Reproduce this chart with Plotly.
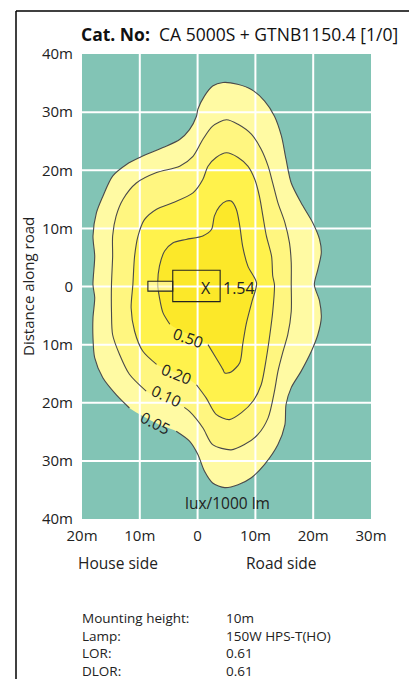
import plotly.graph_objects as go

# ---------------- data (metres) ----------------
levels = ["0.05", "0.10", "0.20", "0.50"]

c005_x = [0.05, 1.2, 2.6, 4.4, 6.9, 9.3, 11.6, 13.3, 14.5, 15.3, 16.2, 17.9, 19.9, 21.1, 21.4, 20.8,
          20.2, 21.1, 21.4, 20.8, 19.7, 17.9, 16.2, 15.3, 15.1, 13.9, 11.6, 9.3, 7.0, 4.7, 2.6, 1.2,
          0.05, -1.4, -3.7, -6.6, -9.5, -11.8, -14.1, -16.4, -17.8, -18.1, -18.1, -17.8, -18.1, -17.8,
          -18.1, -17.5, -16.4, -14.7, -12.3, -10.0, -6.0, -3.1, -1.4, -0.2]
c005_y = [30.5, 32.8, 34.5, 35.1, 34.8, 33.9, 31.9, 29.3, 25.9, 21.9, 17.8, 14.4, 11.0, 8.1, 5.8, 2.9,
          0.3, -2.5, -5.4, -8.3, -11.1, -14.6, -17.4, -20.3, -23.8, -27.2, -30.6, -32.9, -34.1, -34.6,
          -33.8, -31.8, -28.9, -26.6, -24.9, -23.8, -22.3, -20.9, -18.6, -15.7, -12.3, -8.8, -5.4, -1.9,
          0.3, 5.2, 8.7, 12.7, 15.5, 19.0, 21.0, 22.2, 23.9, 25.3, 27.0, 29.3]

c010_x = [5.0, 7.0, 9.3, 11.0, 12.2, 13.0, 13.9, 15.1, 15.9, 16.2, 16.2, 16.2, 15.6, 14.8, 13.9, 13.3,
          12.2, 10.4, 8.1, 5.8, 2.6, 0.9, -1.4, -2.3, -5.7, -8.9, -11.8, -13.5, -14.7, -14.9, -14.9,
          -14.7, -14.7, -14.1, -12.9, -10.6, -7.1, -3.1, -0.8, 0.9, 2.6]
c010_y = [28.7, 27.9, 26.2, 23.6, 20.7, 17.8, 14.4, 11.0, 7.5, 4.1, 0.3, -4.3, -8.3, -11.1, -14.6, -18.0,
          -22.6, -25.5, -27.2, -28.1, -27.2, -24.3, -21.5, -20.8, -19.4, -18.0, -15.1, -11.7, -8.3, -4.3,
          0.3, 5.2, 8.7, 12.1, 15.0, 17.8, 19.6, 20.7, 22.4, 25.3, 27.6]

c020_x = [5.0, 7.0, 8.7, 9.9, 10.7, 11.3, 11.9, 12.8, 13.0, 13.3, 13.0, 12.5, 11.9, 11.0, 9.6, 7.6,
          5.5, 3.2, 1.5, -0.2, -3.1, -7.1, -9.5, -10.9, -11.5, -11.2, -10.9, -10.3, -9.2, -7.1, -4.3,
          -0.8, 0.9, 1.8, 3.2]
c020_y = [23.0, 22.2, 20.7, 18.4, 15.5, 12.1, 8.7, 5.2, 1.8, 0.3, -4.3, -8.3, -12.3, -16.9, -19.7, -21.7,
          -22.9, -22.0, -19.2, -16.9, -15.1, -13.4, -11.1, -7.7, -3.7, 0.3, 5.2, 8.7, 11.5, 13.3, 14.4,
          16.1, 18.4, 20.7, 22.2]

c050_x = [5.0, 5.8, 6.7, 7.3, 7.8, 8.7, 10.2, 9.4, 8.4, 7.8, 7.3, 5.8, 4.7, 4.4, 3.2, 1.8, -1.4, -4.8,
          -6.0, -6.6, -6.9, -6.6, -5.7, -4.3, -2.0, 0.9, 2.4, 2.9, 3.8]
c050_y = [14.7, 14.7, 13.3, 10.4, 6.9, 3.5, 0.6, -2.6, -6.5, -10.0, -13.1, -14.7, -14.9, -14.3, -12.3,
          -10.0, -8.3, -6.5, -4.5, -1.9, 0.3, 3.5, 6.1, 7.5, 8.1, 8.7, 9.8, 12.1, 13.8]

# points hidden under each contour label (first, last index)
label_gaps = [(35, 36), (24, 24), (20, 20), (16, 16)]
label_x = [-7.3, -5.3, -3.6, -1.5]
label_y = [-23.5, -18.9, -15.1, -8.8]
label_angle = [27, 25, 22, 20]

peak_value = "1.54"
peak_x, peak_y = 1.4, -0.2
luminaire_box_x = [-4.3, 3.9]
luminaire_box_y = [-2.6, 2.8]
luminaire_arm_x = [-8.6, -4.3]
luminaire_arm_y = [-0.8, 0.9]

x_tick_vals = [-20, -10, 0, 10, 20, 30]
x_tick_text = ["20m", "10m", "0", "10m", "20m", "30m"]
y_tick_vals = [-40, -30, -20, -10, 0, 10, 20, 30, 40]
y_tick_text = ["40m", "30m", "20m", "10m", "0", "10m", "20m", "30m", "40m"]

info_labels = ["Mounting height:", "Lamp:", "LOR:", "DLOR:"]
info_values = ["10m", "150W HPS-T(HO)", "0.61", "0.61"]

# ---------------- style ----------------
FONT = "Open Sans"
TEAL = "#82C4B5"
band_colors = ["#FFFAA3", "#FFF680", "#FFF24C", "#FCE829"]
LINE = "#4a4a4a"
TXT = "#222"

contours = [(c005_x, c005_y), (c010_x, c010_y), (c020_x, c020_y), (c050_x, c050_y)]

fig = go.Figure()

# filled bands (outer first)
for (xs, ys), col, lv in zip(contours, band_colors, levels):
    fig.add_trace(go.Scatter(x=xs + xs[:1], y=ys + ys[:1], mode="lines", fill="toself",
                             fillcolor=col, line=dict(width=0, shape="spline", smoothing=0.8),
                             hoverinfo="skip", showlegend=False, name=lv))

# white grid lines above the fills
gx, gy = [], []
for v in x_tick_vals[1:-1]:
    gx += [v, v, None]
    gy += [y_tick_vals[0], y_tick_vals[-1], None]
for v in y_tick_vals[1:-1]:
    gx += [x_tick_vals[0], x_tick_vals[-1], None]
    gy += [v, v, None]
fig.add_trace(go.Scatter(x=gx, y=gy, mode="lines", line=dict(color="white", width=2),
                         hoverinfo="skip", showlegend=False))

# isolux lines with a gap under each label
for (xs, ys), (g0, g1) in zip(contours, label_gaps):
    lx = xs[g1 + 1:] + xs[:g0]
    ly = ys[g1 + 1:] + ys[:g0]
    fig.add_trace(go.Scatter(x=lx, y=ly, mode="lines",
                             line=dict(color=LINE, width=1.1, shape="spline", smoothing=0.8),
                             hoverinfo="skip", showlegend=False))

# luminaire outline
fig.add_shape(type="rect", xref="x", yref="y", x0=luminaire_arm_x[0], x1=luminaire_arm_x[1],
              y0=luminaire_arm_y[0], y1=luminaire_arm_y[1], line=dict(color="#222", width=1.1),
              fillcolor="rgba(255,250,190,0.6)")
fig.add_shape(type="rect", xref="x", yref="y", x0=luminaire_box_x[0], x1=luminaire_box_x[1],
              y0=luminaire_box_y[0], y1=luminaire_box_y[1], line=dict(color="#222", width=1.1))

annotations = []
for lv, lx, ly, ang in zip(levels, label_x, label_y, label_angle):
    annotations.append(dict(x=lx, y=ly, xref="x", yref="y", text=lv, showarrow=False,
                            textangle=ang, font=dict(family=FONT, size=15.5, color=TXT)))
annotations.append(dict(x=peak_x, y=peak_y, xref="x", yref="y", text="X", showarrow=False,
                        font=dict(family=FONT, size=16, color=TXT)))
annotations.append(dict(x=peak_x + 2.6, y=peak_y, xref="x", yref="y", text=peak_value,
                        showarrow=False, xanchor="left", font=dict(family=FONT, size=16, color=TXT)))
annotations.append(dict(x=5.2, y=-37.2, xref="x", yref="y", text="lux/1000 lm", showarrow=False,
                        font=dict(family=FONT, size=15.5, color=TXT)))

# paper-coordinate texts (plot area = 82..371 px wide, 54..519 px tall)
W, H, L, T = 289.0, 465.0, 82.0, 54.0
def px(xp):
    return (xp - L) / W
def py(yp):
    return (T + H - yp) / H

def ptext(x, y, text, size, **kw):
    d = dict(x=px(x), y=py(y), xref="paper", yref="paper", xanchor="left", yanchor="middle",
             showarrow=False, text=text, align="left",
             font=dict(family=FONT, size=size, color=TXT))
    d.update(kw)
    annotations.append(d)

ptext(79, 34, "<b>Cat. No:</b>  CA 5000S + GTNB1150.4 [1/0]", 17.5,
      font=dict(family=FONT, size=17.5, color="#111"))
ptext(28, 287, "Distance along road", 15, xanchor="center", textangle=-90)
ptext(76, 563, "House side", 15.5)
ptext(244, 563, "Road side", 15.5)
# info block: one multi-line text per column (line height 1.3em ≈ 17.5px)
ptext(80, 644, "<br>".join(info_labels), 13.5)
ptext(224, 644, "<br>".join(info_values), 13.5)

# page frame
fig.add_shape(type="line", xref="paper", yref="paper", x0=px(16), x1=px(16), y0=py(11), y1=py(700),
              line=dict(color="black", width=1.5))
fig.add_shape(type="line", xref="paper", yref="paper", x0=px(16), x1=px(420), y0=py(11), y1=py(11),
              line=dict(color="black", width=1.5))

fig.update_layout(
    width=409, height=679,
    margin=dict(l=82, r=38, t=54, b=160, pad=0),
    paper_bgcolor="white", plot_bgcolor=TEAL,
    showlegend=False,
    annotations=annotations,
    xaxis=dict(range=[x_tick_vals[0], x_tick_vals[-1]], tickvals=x_tick_vals, ticktext=x_tick_text,
               showgrid=False, zeroline=False, showline=False, ticks="", ticklabelstandoff=6,
               tickfont=dict(family=FONT, size=15, color=TXT), fixedrange=True),
    yaxis=dict(range=[y_tick_vals[0], y_tick_vals[-1]], tickvals=y_tick_vals, ticktext=y_tick_text,
               showgrid=False, zeroline=False, showline=False, ticks="", ticklabelstandoff=8,
               tickfont=dict(family=FONT, size=15, color=TXT), fixedrange=True),
)

fig.write_html("out.html", config={"displayModeBar": False},
               post_script="document.body.style.margin='0';document.body.style.overflow='hidden';")
